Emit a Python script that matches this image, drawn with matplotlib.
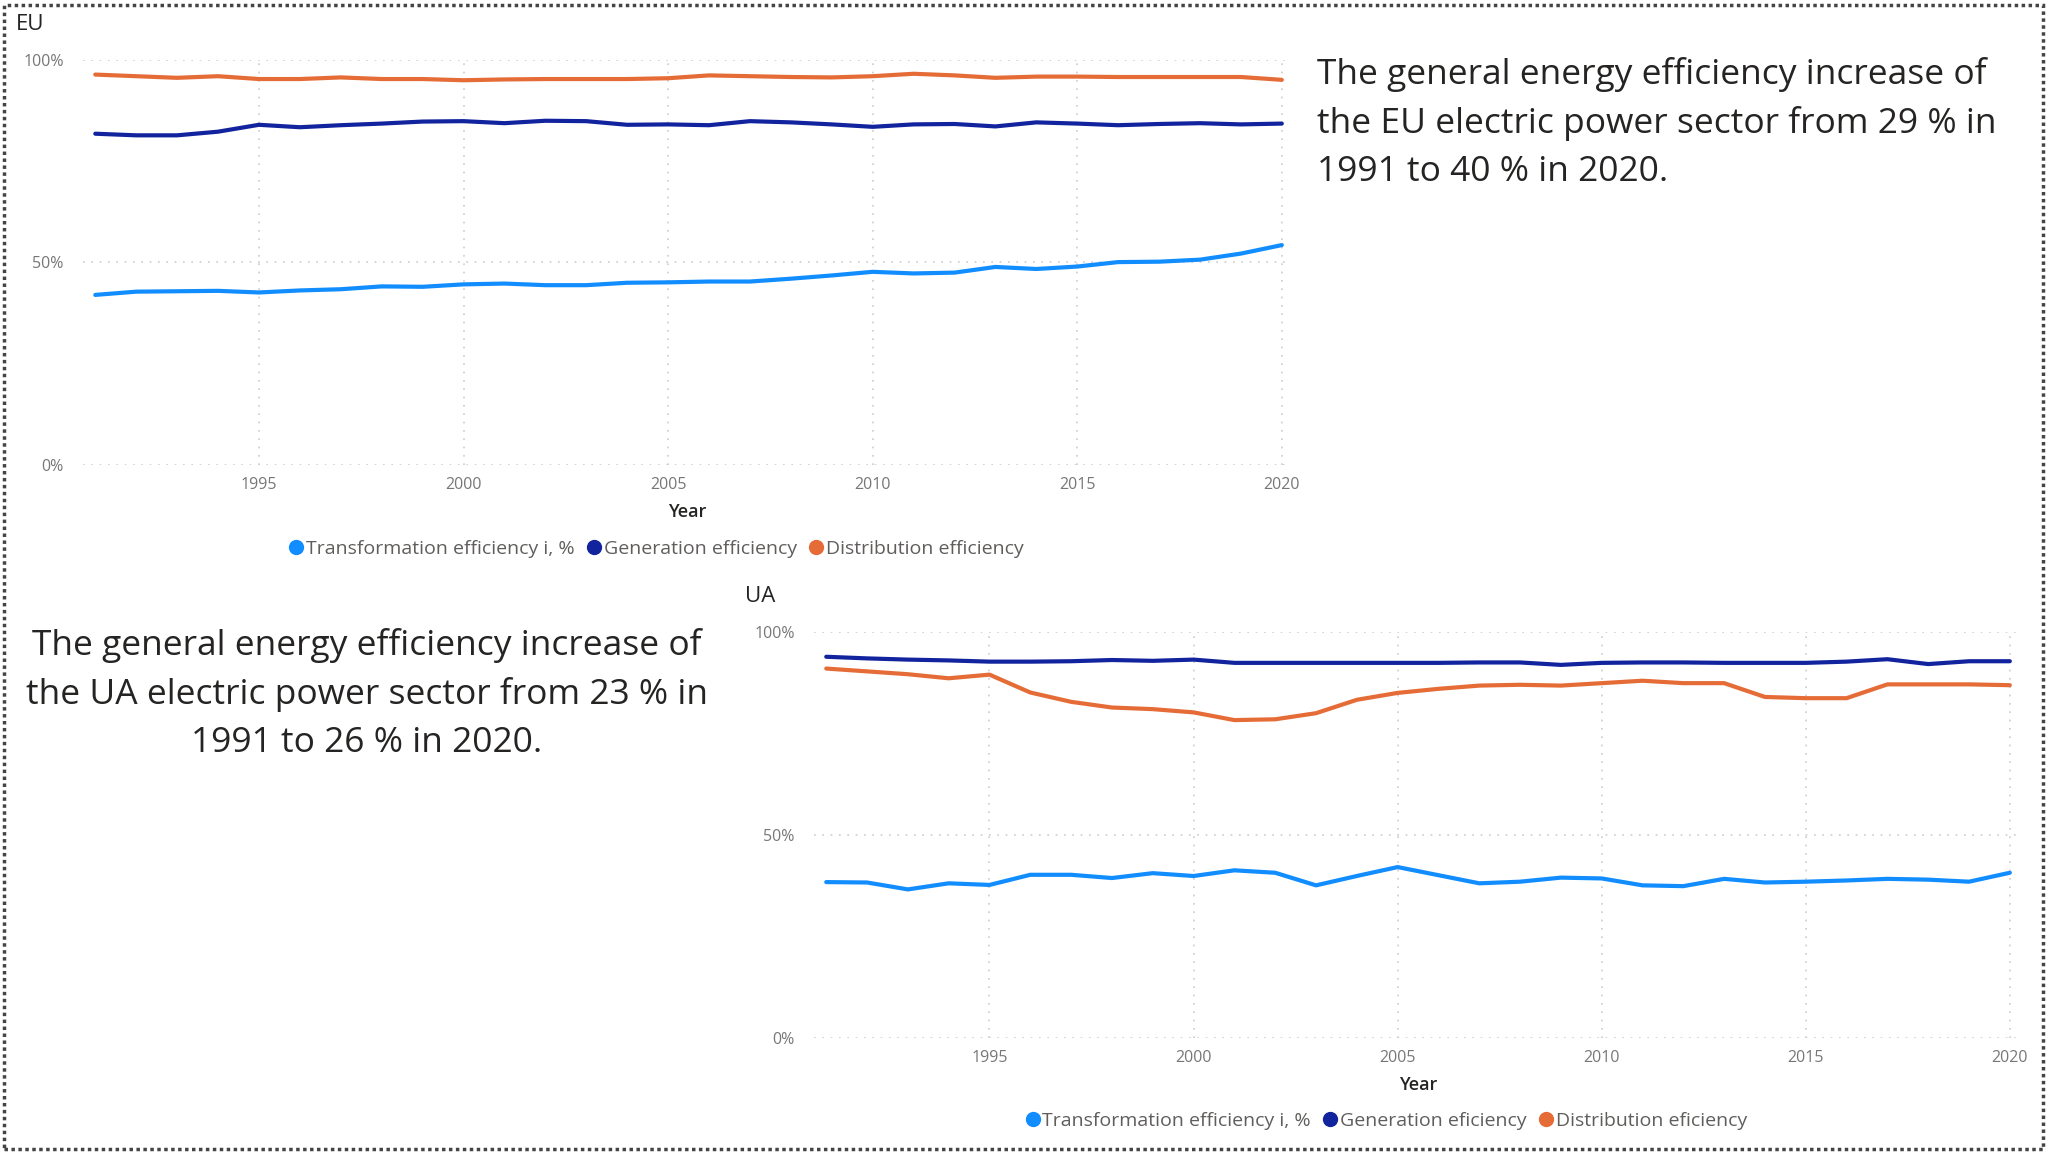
import numpy as np
import matplotlib
matplotlib.use("Agg")
import matplotlib.pyplot as plt
from matplotlib.lines import Line2D
from matplotlib.patches import Rectangle

plt.rcParams['font.family'] = ['Open Sans', 'DejaVu Sans']

# Efficiency series, %, 1991..2020
years = np.arange(1991, 2021)

eu_transformation = [42.0, 42.8, 42.9, 43.0, 42.6, 43.1, 43.4, 44.1, 44.0, 44.6,
                     44.8, 44.4, 44.4, 45.0, 45.1, 45.3, 45.3, 46.0, 46.8, 47.7,
                     47.3, 47.5, 48.9, 48.4, 49.0, 50.1, 50.2, 50.7, 52.2, 54.3]
eu_generation = [81.8, 81.4, 81.4, 82.3, 84.0, 83.4, 83.9, 84.3, 84.8, 84.9,
                 84.4, 85.0, 84.9, 84.0, 84.1, 83.9, 84.9, 84.6, 84.1, 83.5,
                 84.1, 84.2, 83.6, 84.6, 84.3, 83.9, 84.2, 84.4, 84.1, 84.3]
eu_distribution = [96.4, 96.0, 95.6, 96.0, 95.3, 95.3, 95.7, 95.3, 95.3, 95.0,
                   95.2, 95.3, 95.3, 95.3, 95.5, 96.2, 96.0, 95.8, 95.7, 96.0,
                   96.6, 96.2, 95.6, 95.9, 95.9, 95.8, 95.8, 95.8, 95.8, 95.1]

ua_transformation = [38.4, 38.3, 36.6, 38.1, 37.7, 40.2, 40.2, 39.4, 40.6, 39.9,
                     41.3, 40.7, 37.6, 39.9, 42.1, 40.1, 38.1, 38.5, 39.5, 39.3,
                     37.6, 37.4, 39.2, 38.3, 38.5, 38.8, 39.2, 39.0, 38.5, 40.7]
ua_generation = [93.9, 93.5, 93.2, 93.0, 92.7, 92.7, 92.8, 93.1, 92.9, 93.2,
                 92.4, 92.4, 92.4, 92.4, 92.4, 92.4, 92.5, 92.5, 91.9, 92.4,
                 92.5, 92.5, 92.4, 92.4, 92.4, 92.7, 93.3, 92.1, 92.8, 92.8]
ua_distribution = [91.0, 90.3, 89.6, 88.6, 89.5, 85.1, 82.8, 81.4, 81.0, 80.2,
                   78.3, 78.5, 80.0, 83.3, 85.0, 86.0, 86.8, 87.0, 86.8, 87.4,
                   88.0, 87.4, 87.4, 84.0, 83.7, 83.7, 87.1, 87.1, 87.1, 86.9]

eu_labels = ['Transformation efficiency i, %', 'Generation efficiency', 'Distribution efficiency']
ua_labels = ['Transformation efficiency i, %', 'Generation eficiency', 'Distribution eficiency']
year_ticks = [1995, 2000, 2005, 2010, 2015, 2020]
pct_ticks = [0, 50, 100]

colors = ['#118DFF', '#12239E', '#E66C37']

eu_text = ("The general energy efficiency increase of\n"
           "the EU electric power sector from 29 % in\n"
           "1991 to 40 % in 2020.")
ua_text = ("The general energy efficiency increase of\n"
           "the UA electric power sector from 23 % in\n"
           "1991 to 26 % in 2020.")

W, H = 2049, 1152
fig = plt.figure(figsize=(W / 100, H / 100), dpi=100)


def px_axes(x0, y0, x1, y1):
    # axes from pixel box (top-left origin)
    return fig.add_axes([x0 / W, 1 - y1 / H, (x1 - x0) / W, (y1 - y0) / H])


def draw_panel(ax, series, labels, title, title_xy, xlabel_xy, legend_xy):
    for vals, c in zip(series, colors):
        ax.plot(years, vals, color=c, lw=3.0, solid_capstyle='round')
    ax.set_xlim(1990.7, 2020.2)
    ax.set_ylim(0, 100)
    ax.set_xticks(year_ticks)
    ax.set_yticks(pct_ticks)
    ax.set_yticklabels(['{}%'.format(v) for v in pct_ticks])
    ax.tick_params(length=0, labelsize=11.5, labelcolor='#777777')
    ax.tick_params(axis='y', pad=14)
    ax.tick_params(axis='x', pad=9)
    ax.grid(True, color='#cccccc', linestyle=(0, (1, 4)), lw=1.2)
    for s in ax.spines.values():
        s.set_visible(False)

    fig.text(title_xy[0] / W, 1 - title_xy[1] / H, title, fontsize=16,
             color='#252423', ha='left', va='center')
    fig.text(xlabel_xy[0] / W, 1 - xlabel_xy[1] / H, 'Year', fontsize=13,
             color='#252423', ha='center', va='center', fontweight='semibold')

    handles = [Line2D([], [], color=c, marker='o', linestyle='none', markersize=10)
               for c in colors]
    fig.legend(handles, labels, loc='center', ncol=3,
               bbox_to_anchor=(legend_xy[0] / W, 1 - legend_xy[1] / H),
               frameon=False, fontsize=14, handletextpad=0.0, columnspacing=0.5,
               labelcolor='#605E5C', handlelength=1.0)


ax_eu = px_axes(83, 60, 1290, 465)
draw_panel(ax_eu, [eu_transformation, eu_generation, eu_distribution], eu_labels,
           'EU', (16, 24), (687, 512), (655, 549))

ax_ua = px_axes(814, 632, 2018, 1038)
draw_panel(ax_ua, [ua_transformation, ua_generation, ua_distribution], ua_labels,
           'UA', (745, 596), (1418, 1085), (1385, 1121))

fig.text(1317 / W, 1 - 123 / H, eu_text, fontsize=25.5, color='#252423',
         ha='left', va='center', linespacing=1.52)
fig.text(367 / W, 1 - 694 / H, ua_text, fontsize=25.5, color='#252423',
         ha='center', va='center', linespacing=1.52, multialignment='center')

# dotted frame round the page
fig.patches.append(Rectangle((4 / W, 3 / H), (W - 10) / W, (H - 8) / H,
                             transform=fig.transFigure, fill=False,
                             edgecolor='#444444', lw=2.5, linestyle=(0, (1, 1))))

fig.savefig('out.png', dpi=100)
